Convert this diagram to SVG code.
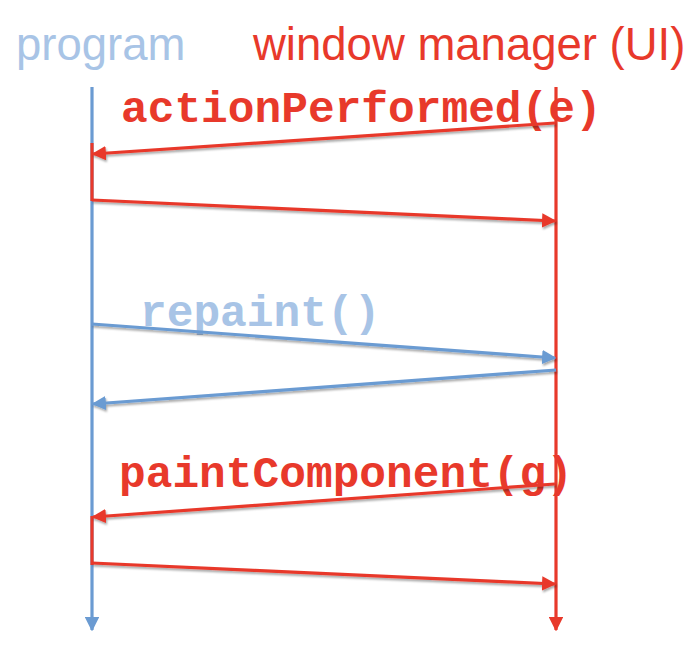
<svg xmlns="http://www.w3.org/2000/svg" width="696" height="648" viewBox="0 0 696 648">
<defs>
<style>
.title{font-family:"Liberation Sans",Arial,sans-serif;font-size:45.5px}
.code{font-family:"Liberation Mono","Courier New",monospace;font-size:44.5px;font-weight:bold}
.red{stroke:#e8392b;fill:none;stroke-width:3.2}
.blue{stroke:#6b9bd2;fill:none;stroke-width:3.2}
</style>
<marker id="ar" viewBox="0 0 10 10" refX="9" refY="5" markerWidth="4.5" markerHeight="4.5" orient="auto-start-reverse" markerUnits="strokeWidth"><path d="M0,0 L10,5 L0,10 z" fill="#e8392b"/></marker>
<marker id="ab" viewBox="0 0 10 10" refX="9" refY="5" markerWidth="4.5" markerHeight="4.5" orient="auto-start-reverse" markerUnits="strokeWidth"><path d="M0,0 L10,5 L0,10 z" fill="#6b9bd2"/></marker>
<filter id="sh" x="-5%" y="-50%" width="110%" height="200%"><feDropShadow dx="1" dy="2" stdDeviation="1" flood-color="#000" flood-opacity="0.35"/></filter>
</defs>
<g id="program">
<text class="title" x="16" y="60" fill="#a8c4e6">program</text>
<line class="blue" x1="92" y1="87" x2="92" y2="630" marker-end="url(#ab)"/>
<line class="red" x1="92" y1="143" x2="92" y2="201"/>
<line class="red" x1="92" y1="516" x2="92" y2="565"/>
</g>
<g id="window-manager">
<text class="title" x="253" y="60" fill="#e8392b">window manager (UI)</text>
<line class="red" x1="556" y1="87" x2="556" y2="630" marker-end="url(#ar)"/>
</g>
<g id="labels">
<text class="code" x="121" y="122" fill="#e8392b">actionPerformed(e)</text>
<text class="code" x="140" y="326" fill="#a8c4e6">repaint()</text>
<text class="code" x="119" y="487" fill="#e8392b">paintComponent(g)</text>
</g>
<g id="connectors" filter="url(#sh)">
<line class="red" x1="555" y1="123" x2="93" y2="154" marker-end="url(#ar)"/>
<line class="red" x1="92" y1="200" x2="555" y2="221" marker-end="url(#ar)"/>
<line class="blue" x1="92" y1="324" x2="555" y2="358" marker-end="url(#ab)"/>
<line class="blue" x1="556" y1="370" x2="93" y2="404" marker-end="url(#ab)"/>
<line class="red" x1="555" y1="484" x2="93" y2="517" marker-end="url(#ar)"/>
<line class="red" x1="92" y1="563" x2="555" y2="584" marker-end="url(#ar)"/>
</g>
</svg>
